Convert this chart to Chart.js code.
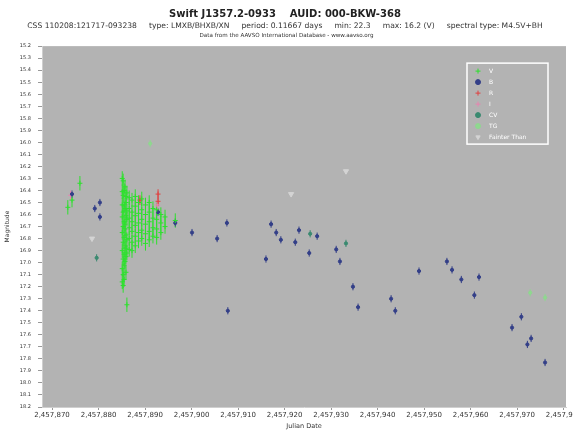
<!DOCTYPE html>
<html>
<head>
<meta charset="utf-8">
<script src="https://cdn.jsdelivr.net/npm/chart.js@4.4.1/dist/chart.umd.min.js"></script>
<style>
    html, body { margin: 0; padding: 0; background: #ffffff; }
</style>
</head>
<body>
<canvas id="lightCurve" width="573" height="430"></canvas>
<script>

// ======================================================
// Données (jours = JD - 2457000)
// ======================================================

const JD0 = 2457000;

const xTickDays = [870, 880, 890, 900, 910, 920, 930, 940, 950, 960, 970, 980];

const yTickMags = [15.2, 15.3, 15.4, 15.5, 15.6, 15.7, 15.8, 15.9, 16.0, 16.1,
                   16.2, 16.3, 16.4, 16.5, 16.6, 16.7, 16.8, 16.9, 17.0, 17.1,
                   17.2, 17.3, 17.4, 17.5, 17.6, 17.7, 17.8, 17.9, 18.0, 18.1, 18.2];

const bandNames = ["V", "B", "R", "I", "CV", "TG", "Fainter Than"];

// V
const vDays = [
    873.4, 874.3, 876.0,
    885.1, 885.1, 885.1, 885.1, 885.1, 885.1, 885.1, 885.1,
    885.3, 885.3, 885.3, 885.3, 885.3, 885.3, 885.3, 885.3,
    885.5, 885.5, 885.5, 885.5, 885.5, 885.5, 885.5,
    885.7, 885.7, 885.7, 885.7, 885.7, 885.7,
    885.9, 885.9, 885.9, 885.9, 885.9, 885.9, 885.9,
    886.1, 886.1, 886.1, 886.1, 886.1, 886.1,
    886.6, 886.6, 886.6, 886.6, 886.6, 886.6,
    887.2, 887.2, 887.2, 887.2, 887.2, 887.2,
    887.9, 887.9, 887.9, 887.9, 887.9, 887.9,
    888.6, 888.6, 888.6, 888.6, 888.6,
    889.3, 889.3, 889.3, 889.3, 889.3,
    890.1, 890.1, 890.1, 890.1, 890.1,
    890.9, 890.9, 890.9, 890.9, 890.9,
    891.7, 891.7, 891.7, 891.7,
    892.5, 892.5, 892.5, 892.5,
    893.4, 893.4, 893.4,
    894.3, 894.3,
    896.5
];
const vMags = [
    16.54, 16.48, 16.34,
    16.30, 16.41, 16.52, 16.62, 16.75, 16.90, 17.05, 17.16,
    16.32, 16.44, 16.58, 16.70, 16.83, 16.97, 17.10, 17.19,
    16.40, 16.52, 16.66, 16.79, 16.93, 17.02, 17.14,
    16.37, 16.55, 16.68, 16.72, 16.86, 16.99,
    16.45, 16.50, 16.61, 16.77, 16.88, 16.95, 17.08,
    16.42, 16.57, 16.64, 16.81, 16.92, 17.35,
    16.46, 16.55, 16.63, 16.71, 16.80, 16.89,
    16.48, 16.58, 16.66, 16.74, 16.83, 16.90,
    16.45, 16.53, 16.61, 16.69, 16.78, 16.86,
    16.50, 16.59, 16.67, 16.75, 16.82,
    16.47, 16.56, 16.64, 16.73, 16.80,
    16.52, 16.60, 16.68, 16.76, 16.84,
    16.50, 16.58, 16.66, 16.74, 16.81,
    16.55, 16.63, 16.71, 16.78,
    16.56, 16.64, 16.72, 16.79,
    16.60, 16.67, 16.75,
    16.62, 16.70,
    16.65
];

// B
const bDays = [874.3, 879.2, 880.3, 880.3, 892.8, 896.5, 900.1, 905.5, 907.6, 907.8,
               916.0, 917.1, 918.2, 919.2, 922.3, 923.1, 925.3, 927.0, 931.1, 931.9,
               934.7, 935.8, 942.9, 943.8, 948.9, 954.9, 956.0, 958.0, 960.8, 961.8,
               968.9, 970.9, 972.2, 973.0, 976.0];
const bMags = [16.43, 16.55, 16.50, 16.62, 16.58, 16.67, 16.75, 16.80, 16.67, 17.40,
               16.97, 16.68, 16.75, 16.81, 16.83, 16.73, 16.92, 16.78, 16.89, 16.99,
               17.20, 17.37, 17.30, 17.40, 17.07, 16.99, 17.06, 17.14, 17.27, 17.12,
               17.54, 17.45, 17.68, 17.63, 17.83];

// R
const rDays = [888.9, 892.8, 892.8];
const rMags = [16.48, 16.43, 16.49];

// I
const iDays = [874.0, 892.6];
const iMags = [16.44, 16.52];

// CV
const cvDays = [879.6, 925.5, 933.2];
const cvMags = [16.96, 16.76, 16.84];

// TG
const tgDays = [891.1, 972.8, 976.0];
const tgMags = [16.01, 17.25, 17.29];

// Fainter Than
const fDays = [878.6, 921.4, 933.2];
const fMags = [16.80, 16.43, 16.24];


// ======================================================
// Styles
// ======================================================

const bandStyles = {
    "V":            { color: "#2ee02e", style: "cross",    radius: 2.5, err: 0.06 },
    "B":            { color: "#333f88", style: "circle",   radius: 1.6, err: 0.03 },
    "R":            { color: "#e04040", style: "cross",    radius: 2.5, err: 0.04 },
    "I":            { color: "#e884b0", style: "cross",    radius: 2.5, err: 0.04 },
    "CV":           { color: "#3a8a70", style: "circle",   radius: 1.6, err: 0.03 },
    "TG":           { color: "#8fd88f", style: "circle",   radius: 1.6, err: 0.03 },
    "Fainter Than": { color: "#d4d4d4", style: "triangle", radius: 3,   err: 0 }
};

const subtitleLine1 = "CSS 110208:121717-093238     type: LMXB/BHXB/XN     period: 0.11667 days     min: 22.3     max: 16.2 (V)     spectral type: M4.5V+BH";
const subtitleLine2 = "Data from the AAVSO International Database - www.aavso.org";

function toPoints(days, mags) {

    return days.map((d, i) => ({ x: d, y: mags[i] }));

}

const bandData = [
    toPoints(vDays, vMags),
    toPoints(bDays, bMags),
    toPoints(rDays, rMags),
    toPoints(iDays, iMags),
    toPoints(cvDays, cvMags),
    toPoints(tgDays, tgMags),
    toPoints(fDays, fMags)
];


// ======================================================
// Plugins
// ======================================================

const plotBackground = {

    id: "plotBackground",

    beforeDraw(chart) {

        const { ctx, chartArea: a } = chart;

        ctx.save();
        ctx.fillStyle = "#b3b3b3";
        ctx.fillRect(a.left, a.top, a.right - a.left, a.bottom - a.top);
        ctx.restore();

    }

};

// deuxième ligne du sous-titre, plus petite
const sourceLine = {

    id: "sourceLine",

    afterDraw(chart) {

        const ctx = chart.ctx;

        ctx.save();
        ctx.font = '5.6px "DejaVu Sans"';
        ctx.fillStyle = "#333333";
        ctx.textAlign = "center";
        ctx.textBaseline = "middle";
        ctx.fillText(subtitleLine2, chart.width / 2, chart.chartArea.top - 11);
        ctx.restore();

    }

};

const errorBars = {

    id: "errorBars",

    beforeDatasetsDraw(chart) {

        const ctx = chart.ctx;
        const y = chart.scales.y;

        chart.data.datasets.forEach((ds, i) => {

            if (!ds.errBar)
                return;

            const meta = chart.getDatasetMeta(i);

            ctx.save();
            ctx.strokeStyle = ds.borderColor;
            ctx.lineWidth = 1;

            meta.data.forEach((pt, j) => {

                const m = ds.data[j].y;

                ctx.beginPath();
                ctx.moveTo(pt.x, y.getPixelForValue(m - ds.errBar));
                ctx.lineTo(pt.x, y.getPixelForValue(m + ds.errBar));
                ctx.stroke();

            });

            ctx.restore();

        });

    }

};

const legendBox = {

    id: "legendBox",

    afterDraw(chart) {

        const { ctx, chartArea: a } = chart;

        const x0 = a.right - 99;
        const y0 = a.top + 17;

        ctx.save();

        ctx.strokeStyle = "#ffffff";
        ctx.lineWidth = 1.5;
        ctx.strokeRect(x0, y0, 81, 81);

        ctx.font = '6px "DejaVu Sans"';
        ctx.textBaseline = "middle";

        chart.data.datasets.forEach((ds, i) => {

            const yy = y0 + 8 + i * 11;

            ctx.fillStyle = ds.backgroundColor;
            ctx.strokeStyle = ds.borderColor;
            ctx.lineWidth = 1;

            Chart.helpers.drawPoint(ctx, {
                pointStyle: ds.pointStyle,
                radius: 2.5,
                borderWidth: 1,
                rotation: ds.rotation || 0
            }, x0 + 11, yy);

            ctx.fillStyle = "#ffffff";
            ctx.fillText(ds.label, x0 + 22, yy);

        });

        ctx.restore();

    }

};


// ======================================================
// Graphique
// ======================================================

const datasets = bandNames.map((name, i) => {

    const s = bandStyles[name];

    return {
        label: name,
        data: bandData[i],
        pointStyle: s.style,
        pointRadius: s.radius,
        pointBorderWidth: 1,
        rotation: name === "Fainter Than" ? 180 : 0,
        borderColor: s.color,
        backgroundColor: s.color,
        errBar: s.err,
        showLine: false
    };

});

new Chart(document.getElementById("lightCurve"), {

    type: "scatter",

    data: { datasets: datasets },

    plugins: [plotBackground, errorBars, legendBox, sourceLine],

    options: {

        responsive: false,
        animation: false,

        layout: {
            padding: { left: 4, right: 7, top: 0, bottom: 0 }
        },

        plugins: {

            legend: { display: false },
            tooltip: { enabled: false },

            title: {
                display: true,
                text: "Swift J1357.2-0933    AUID: 000-BKW-368",
                color: "#222222",
                font: { family: "DejaVu Sans", size: 10, weight: "bold" },
                padding: { top: 8, bottom: 1 }
            },

            subtitle: {
                display: true,
                text: subtitleLine1,
                color: "#333333",
                font: { family: "DejaVu Sans", size: 7.6 },
                padding: { top: 0, bottom: 16 }
            }

        },

        scales: {

            x: {
                type: "linear",
                min: 867.85,
                max: 980.5,
                afterBuildTicks: s => { s.ticks = xTickDays.map(v => ({ value: v })); },
                afterFit: s => { s.height = 23; s.paddingLeft = 0; s.paddingRight = 0; },
                grid: { drawOnChartArea: false, tickLength: 3, color: "#999999" },
                border: { color: "#cfcfcf" },
                ticks: {
                    autoSkip: false,
                    maxRotation: 0,
                    padding: 1,
                    color: "#333333",
                    font: { family: "DejaVu Sans", size: 7 },
                    callback: v => (v + JD0).toLocaleString("en-US")
                },
                title: {
                    display: true,
                    text: "Julian Date",
                    color: "#333333",
                    font: { family: "DejaVu Sans", size: 6.5 },
                    padding: 0
                }
            },

            y: {
                type: "linear",
                reverse: true,
                min: 15.2,
                max: 18.2,
                afterBuildTicks: s => { s.ticks = yTickMags.map(v => ({ value: v })); },
                afterFit: s => { s.width = 38; s.paddingTop = 0; s.paddingBottom = 0; },
                grid: { drawOnChartArea: false, tickLength: 4, color: "#999999" },
                border: { color: "#cfcfcf" },
                ticks: {
                    autoSkip: false,
                    padding: 7,
                    color: "#333333",
                    font: { family: "DejaVu Sans", size: 5 },
                    callback: v => v.toFixed(1)
                },
                title: {
                    display: true,
                    text: "Magnitude",
                    color: "#333333",
                    font: { family: "DejaVu Sans", size: 6 },
                    padding: 0
                }
            }

        }

    }

});

</script>
</body>
</html>
